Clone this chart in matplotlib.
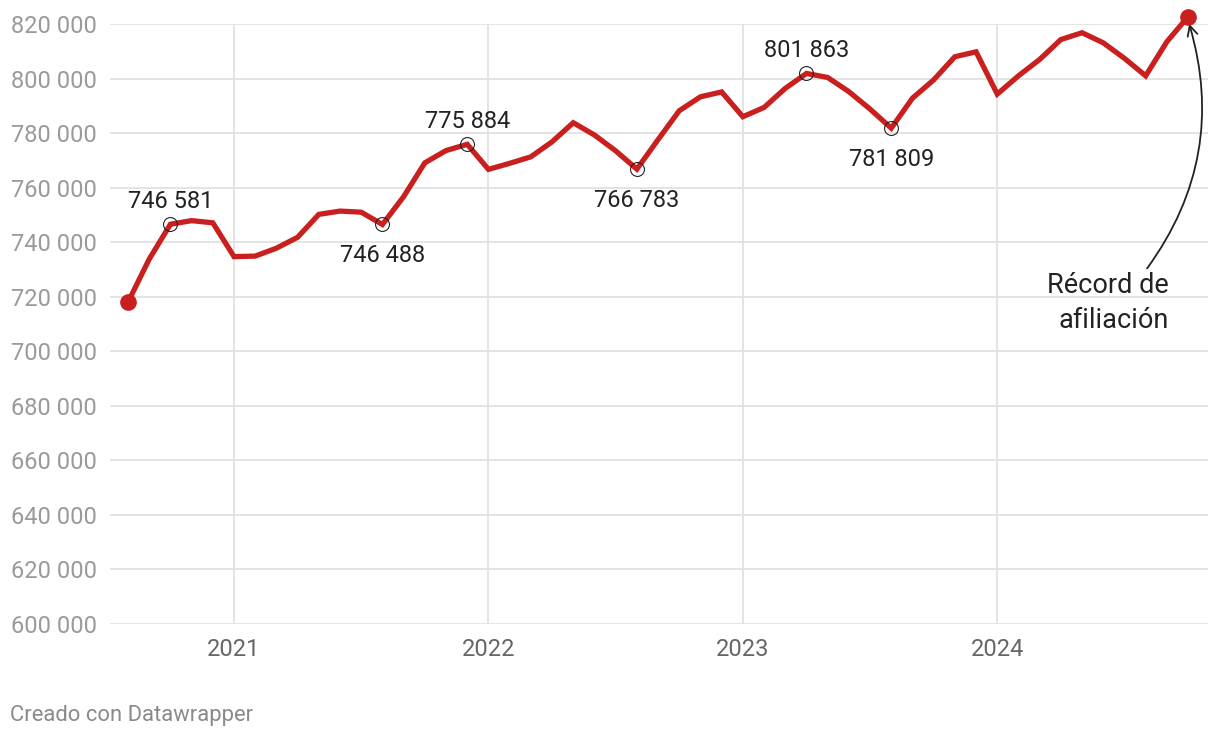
import matplotlib
matplotlib.use('Agg')
import matplotlib.pyplot as plt
import numpy as np

plt.rcParams['font.family'] = ['Roboto', 'DejaVu Sans']

# Monthly social security affiliation, Aug 2020 - Oct 2024
months = ['2020-08', '2020-09', '2020-10', '2020-11', '2020-12',
          '2021-01', '2021-02', '2021-03', '2021-04', '2021-05', '2021-06',
          '2021-07', '2021-08', '2021-09', '2021-10', '2021-11', '2021-12',
          '2022-01', '2022-02', '2022-03', '2022-04', '2022-05', '2022-06',
          '2022-07', '2022-08', '2022-09', '2022-10', '2022-11', '2022-12',
          '2023-01', '2023-02', '2023-03', '2023-04', '2023-05', '2023-06',
          '2023-07', '2023-08', '2023-09', '2023-10', '2023-11', '2023-12',
          '2024-01', '2024-02', '2024-03', '2024-04', '2024-05', '2024-06',
          '2024-07', '2024-08', '2024-09', '2024-10']
afiliados = [718000, 733800, 746581, 747900, 747100,
             734700, 734900, 737800, 741800, 750200, 751400,
             751000, 746488, 756700, 769100, 773600, 775884,
             766700, 768900, 771300, 776800, 783800, 779300,
             773500, 766783, 777600, 788200, 793300, 795100,
             786000, 789400, 796400, 801863, 800400, 795200,
             788800, 781809, 792800, 799500, 808000, 809800,
             794300, 801000, 807000, 814300, 816800, 813100,
             807400, 801000, 813500, 822700]

year_labels = ['2021', '2022', '2023', '2024']
year_months = ['2021-01', '2022-01', '2023-01', '2024-01']

# highlighted points: (month, position of label)
highlights = [('2020-10', 'above'), ('2021-08', 'below'), ('2021-12', 'above'),
              ('2022-08', 'below'), ('2023-04', 'above'), ('2023-08', 'below')]

red = '#c9201f'
grid_c = '#e2e2e2'
x = np.arange(len(months))

fig = plt.figure(figsize=(12.2, 7.4), dpi=100)
ax = fig.add_axes([110 / 1220, 1 - 624 / 740, 1098 / 1220, 600 / 740])

ax.plot(x, afiliados, color=red, lw=3.8, solid_joinstyle='miter', clip_on=False, zorder=3)
ax.plot([x[0], x[-1]], [afiliados[0], afiliados[-1]], 'o', color=red, ms=11,
        clip_on=False, zorder=4)

def fmt(v):
    return f'{v:,}'.replace(',', ' ')

for m, pos in highlights:
    i = months.index(m)
    v = afiliados[i]
    ax.plot(x[i], v, 'o', ms=10, mfc='none', mec='#222222', mew=0.8, zorder=5)
    if pos == 'above':
        ax.annotate(fmt(v), (x[i], v), xytext=(0, 8), textcoords='offset points',
                    ha='center', va='bottom', fontsize=17, color='#222222')
    else:
        ax.annotate(fmt(v), (x[i], v), xytext=(0, -14), textcoords='offset points',
                    ha='center', va='top', fontsize=17, color='#222222')

# record annotation
last = len(x) - 1
ax.annotate('Récord de\nafiliación', xy=(x[last] + 0.05, afiliados[last] - 2600),
            xytext=(x[last] - 0.9, 717800), ha='right', va='center',
            fontsize=19.5, color='#222222', linespacing=1.38,
            arrowprops=dict(arrowstyle='->', color='#222222', lw=1.3,
                            mutation_scale=18, shrinkA=3, shrinkB=0,
                            connectionstyle='arc3,rad=0.25',
                            patchA=None, relpos=(0.8, 1.0)))

ax.set_ylim(600000, 820000)
ax.set_xlim(-0.85, 50.94)
yt = np.arange(600000, 820001, 20000)
ax.set_yticks(yt)
ax.set_yticklabels([fmt(v) for v in yt])
ax.set_xticks([months.index(m) for m in year_months])
ax.set_xticklabels(year_labels)
ax.grid(True, color=grid_c, lw=1.3)
ax.set_axisbelow(True)
for s in ax.spines.values():
    s.set_visible(False)
ax.tick_params(axis='both', length=0, labelsize=17)
ax.tick_params(axis='y', colors='#9a9a9a', pad=9.5)
ax.tick_params(axis='x', colors='#666666', pad=10)

fig.text(10 / 1220, 1 - 716 / 740, 'Creado con Datawrapper', fontsize=15.8,
         color='#8a8a8a', ha='left', va='center')

fig.savefig('out.png', dpi=100)
